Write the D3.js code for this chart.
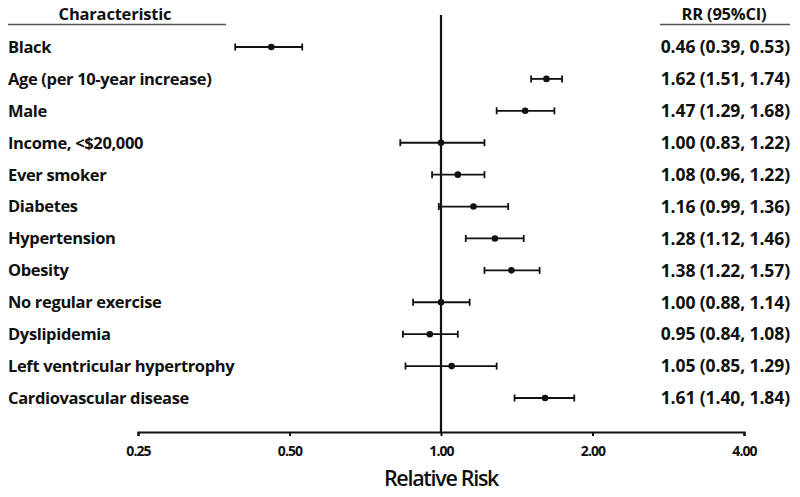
<!DOCTYPE html>
<html><head><meta charset="utf-8">
<script src="https://cdn.jsdelivr.net/npm/d3@7"></script>
<style>body{margin:0;background:#fff;}svg{display:block;}</style>
</head><body>
<svg id="c" width="800" height="497"></svg>
<script>
const categories = ["Black","Age (per 10-year increase)","Male","Income, <$20,000","Ever smoker","Diabetes","Hypertension","Obesity","No regular exercise","Dyslipidemia","Left ventricular hypertrophy","Cardiovascular disease"];
const rr = [0.46,1.62,1.47,1.00,1.08,1.16,1.28,1.38,1.00,0.95,1.05,1.61];
const lower = [0.39,1.51,1.29,0.83,0.96,0.99,1.12,1.22,0.88,0.84,0.85,1.40];
const upper = [0.53,1.74,1.68,1.22,1.22,1.36,1.46,1.57,1.14,1.08,1.29,1.84];
const tickValues = [0.25,0.5,1,2,4];

const svg = d3.select("#c");
const font = "'Open Sans', 'Liberation Sans', sans-serif";
const x = d3.scaleLog().base(2).domain([0.25,4]).range([138,744]);
const y = d3.scalePoint().domain(categories).range([47,398]);

// headers
svg.append("text").attr("x",115).attr("y",20).attr("text-anchor","middle")
  .attr("font-family",font).attr("font-weight",700).attr("font-size",16.5).attr("letter-spacing","-0.2").attr("fill","#111").text("Characteristic");
svg.append("line").attr("x1",8).attr("x2",226).attr("y1",24.5).attr("y2",24.5).attr("stroke","#555").attr("stroke-width",1.3);
svg.append("text").attr("x",724).attr("y",20).attr("text-anchor","middle")
  .attr("font-family",font).attr("font-weight",700).attr("font-size",16.5).attr("letter-spacing","-0.2").attr("fill","#111").text("RR (95%CI)");
svg.append("line").attr("x1",660).attr("x2",790).attr("y1",24.5).attr("y2",24.5).attr("stroke","#555").attr("stroke-width",1.3);

// reference line
svg.append("line").attr("x1",x(1)).attr("x2",x(1)).attr("y1",15).attr("y2",432).attr("stroke","#111").attr("stroke-width",2.2);

// axis
const axis = d3.axisBottom(x).tickValues(tickValues).tickFormat(d3.format(".2f")).tickSizeOuter(0).tickSize(4);
const gA = svg.append("g").attr("transform","translate(0,432)").call(axis);
gA.select(".domain").attr("stroke","#111").attr("stroke-width",2.2);
gA.selectAll(".tick line").attr("stroke","#111").attr("stroke-width",2);
gA.selectAll(".tick text").attr("font-family",font).attr("font-size",14).attr("font-weight",700)
  .attr("fill","#111").attr("dy","1.2em").attr("letter-spacing","-0.9");
svg.append("text").attr("x",x(1)).attr("y",486).attr("text-anchor","middle")
  .attr("font-family",font).attr("font-size",21.5).attr("font-weight",600).attr("fill","#111").attr("letter-spacing","-1.3").text("Relative Risk");

const rows = svg.append("g").selectAll("g").data(categories).join("g")
  .attr("transform",d=>`translate(0,${y(d)})`);
rows.append("text").attr("x",8).attr("y",0).attr("dy","0.36em")
  .attr("font-family",font).attr("font-weight",700).attr("font-size",16.5).attr("fill","#111").attr("letter-spacing","-0.35").text(d=>d);
rows.append("text").attr("x",790).attr("y",0).attr("dy","0.36em").attr("text-anchor","end")
  .attr("font-family",font).attr("font-weight",700).attr("font-size",17.5).attr("fill","#111").attr("letter-spacing","-0.1")
  .text((d,i)=>`${rr[i].toFixed(2)} (${lower[i].toFixed(2)}, ${upper[i].toFixed(2)})`);
rows.append("line").attr("x1",(d,i)=>x(lower[i])).attr("x2",(d,i)=>x(upper[i])).attr("stroke","#111").attr("stroke-width",1.8);
rows.append("line").attr("x1",(d,i)=>x(lower[i])).attr("x2",(d,i)=>x(lower[i])).attr("y1",-3.5).attr("y2",3.5).attr("stroke","#111").attr("stroke-width",1.8);
rows.append("line").attr("x1",(d,i)=>x(upper[i])).attr("x2",(d,i)=>x(upper[i])).attr("y1",-3.5).attr("y2",3.5).attr("stroke","#111").attr("stroke-width",1.8);
rows.append("circle").attr("cx",(d,i)=>x(rr[i])).attr("r",3.3).attr("fill","#111");
</script>
</body></html>
